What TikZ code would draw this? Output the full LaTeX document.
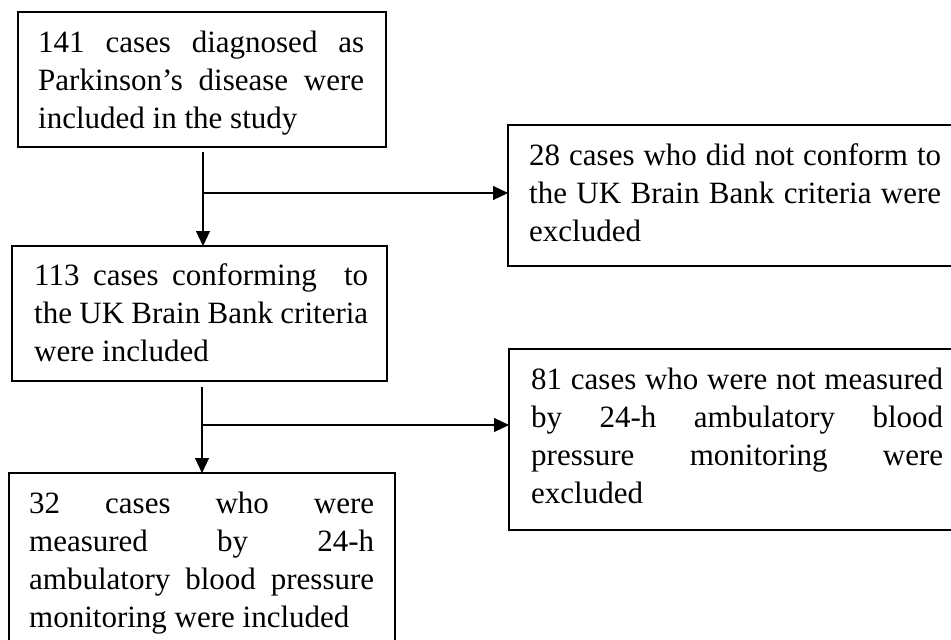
\documentclass[tikz,border=0pt]{standalone}
\usepackage{fontspec}
\setmainfont{Liberation Serif}
\usetikzlibrary{arrows.meta}
\tikzset{
  boxframe/.style={draw=black, line width=1.6pt, inner sep=0pt},
  boxtext/.style={anchor=base west, inner sep=0pt, font=\fontsize{31}{38}\selectfont},
  flowline/.style={draw=black, line width=1.1pt},
  flowarrow/.style={flowline, -{Triangle[length=15pt, width=14pt]}},
}
\newcommand{\jtext}[2]{\parbox[t]{#1}{\hyphenpenalty=10000\exhyphenpenalty=10000\tolerance=10000\hbadness=10000\hfuzz=20pt #2}}
\begin{document}
\begin{tikzpicture}[x=1pt, y=-1pt]
\useasboundingbox (0,0) rectangle (951,640);
% boxes
\draw[boxframe] (18,12) rectangle (386,147);
\draw[boxframe] (508,125) rectangle (962,266);
\draw[boxframe] (12,246) rectangle (387,381);
\draw[boxframe] (509,349) rectangle (962,530);
\draw[boxframe] (9,473) rectangle (395,660);
% named anchors
\coordinate (b1bot) at (203,152);
\coordinate (b3top) at (203,246);
\coordinate (j1) at (203,193);
\coordinate (b2left) at (508,193);
\coordinate (b3bot) at (202,387);
\coordinate (b5top) at (202,473);
\coordinate (j2) at (202,425);
\coordinate (b4left) at (509,425);
% texts
\node[boxtext] (t1) at (38,52) {\jtext{326pt}{141 cases diagnosed as\linebreak Parkinson’s disease were\linebreak included in the study}};
\node[boxtext] (t2) at (529,165) {\jtext{412pt}{28 cases who did not conform to\linebreak the UK Brain Bank criteria were\linebreak excluded}};
\node[boxtext] (t3) at (34,285) {\jtext{334pt}{113 cases conforming\ \ to\linebreak the UK Brain Bank criteria\linebreak were included}};
\node[boxtext] (t4) at (531,389) {\jtext{412pt}{81 cases who were not measured\linebreak by 24-h ambulatory blood\linebreak pressure monitoring were\linebreak excluded}};
\node[boxtext] (t5) at (29,513) {\jtext{345pt}{32 cases who were\linebreak measured by 24-h\linebreak ambulatory blood pressure\linebreak monitoring were included}};
% connectors
\draw[flowarrow] (b1bot) -- (b3top);
\draw[flowarrow] (j1) -- (b2left);
\draw[flowarrow] (b3bot) -- (b5top);
\draw[flowarrow] (j2) -- (b4left);
\end{tikzpicture}
\end{document}
